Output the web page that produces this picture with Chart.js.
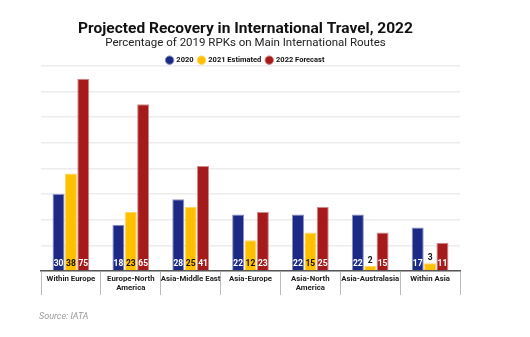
<!DOCTYPE html>
<html>
<head>
<meta charset="utf-8">
<script src="https://cdn.jsdelivr.net/npm/chart.js@4"></script>
<style>
  html, body { margin: 0; padding: 0; background: #fff; }
  #wrap { width: 530px; height: 337px; position: relative; }
</style>
</head>
<body>
<div id="wrap"><canvas id="grafica"></canvas></div>
<script>
// datos del grafico
const rutas = ["Within Europe", ["Europe-North", "America"], "Asia-Middle East", "Asia-Europe", ["Asia-North", "America"], "Asia-Australasia", "Within Asia"];
const v2020 = [30, 18, 28, 22, 22, 22, 17];
const v2021 = [38, 23, 25, 12, 15, 2, 3];
const v2022 = [75, 65, 41, 23, 25, 15, 11];
const series = ["2020", "2021 Estimated", "2022 Forecast"];
const fuente = "Source: IATA";

const azul = '#1c2a86', amarillo = '#ffc000', rojo = '#a51b1b';

// etiquetas dentro de las barras (sin plugin datalabels)
const etiquetas = {
    id: 'etiquetas',
    beforeLayout(chart) {
        // leyenda mas compacta
        const lg = chart.legend;
        if (lg && !lg._recortada) {
            const fit = lg.fit;
            lg.fit = function() { fit.call(this); this.height -= 8; };
            lg._recortada = true;
        }
    },
    afterDatasetsDraw(chart) {
        const ctx = chart.ctx;
        ctx.save();
        ctx.font = 'bold 8.5px Roboto';
        ctx.textAlign = 'center';
        ctx.textBaseline = 'middle';
        chart.data.datasets.forEach((ds, i) => {
            const meta = chart.getDatasetMeta(i);
            meta.data.forEach((bar, j) => {
                const val = ds.data[j];
                const alto = bar.base - bar.y;
                if (alto < 14) {
                    ctx.fillStyle = '#111';
                    ctx.fillText(val, bar.x, bar.y - 5);
                } else {
                    ctx.fillStyle = i == 1 ? '#111' : '#fff';
                    ctx.fillText(val, bar.x, bar.base - 6);
                }
            });
        });
        ctx.font = 'italic 9px Roboto';
        ctx.fillStyle = '#9a9a9a';
        ctx.textAlign = 'left';
        ctx.fillText(fuente, 39, 317);
        ctx.restore();
    }
};

const grafica = document.querySelector("#grafica");
var myChart = new Chart(grafica, {
    type: 'bar',
    data: {
        labels: rutas,
        datasets: [
            { label: series[0], data: v2020, backgroundColor: azul, borderColor: '#8c92c4', borderWidth: 1 },
            { label: series[1], data: v2021, backgroundColor: amarillo, borderColor: '#ffd566', borderWidth: 1 },
            { label: series[2], data: v2022, backgroundColor: rojo, borderColor: '#d08a8a', borderWidth: 1 },
        ]
    },
    options: {
        responsive: true,
        maintainAspectRatio: false,
        animation: false,
        layout: { padding: { left: 31, right: 70, top: 0, bottom: 40 } },
        datasets: { bar: { categoryPercentage: 0.62, barPercentage: 0.97 } },
        scales: {
            x: {
                offset: true,
                afterFit(scale) { scale.height = 26; },
                grid: { drawOnChartArea: false, drawTicks: true, tickLength: 24, color: '#bbb', lineWidth: 1 },
                border: { display: true, color: '#555', width: 1.5 },
                ticks: { padding: -21, minRotation: 0, maxRotation: 0, autoSkip: false, color: '#222', font: { family: 'Roboto', size: 7.8, weight: 'bold' } }
            },
            y: {
                min: 0, max: 80,
                afterFit(scale) { scale.width = 10; },
                ticks: { display: false, stepSize: 10 },
                grid: { drawTicks: false, color: '#ececec', lineWidth: 1.5 },
                border: { display: false }
            }
        },
        plugins: {
            title: {
                display: true,
                text: 'Projected Recovery in International Travel, 2022',
                color: '#111',
                font: { family: 'Roboto', size: 15.5, weight: 'bold' },
                padding: { top: 20, bottom: -2 }
            },
            subtitle: {
                display: true,
                text: 'Percentage of 2019 RPKs on Main International Routes',
                color: '#222',
                font: { family: 'Roboto', size: 11.5 },
                padding: { top: 0, bottom: 1 }
            },
            legend: {
                labels: {
                    usePointStyle: true, pointStyle: 'circle', boxWidth: 6, boxHeight: 6,
                    padding: 5, color: '#111',
                    font: { family: 'Roboto', size: 7.5, weight: 'bold' }
                }
            },
            tooltip: { enabled: false }
        }
    },
    plugins: [etiquetas]
});
</script>
</body>
</html>
